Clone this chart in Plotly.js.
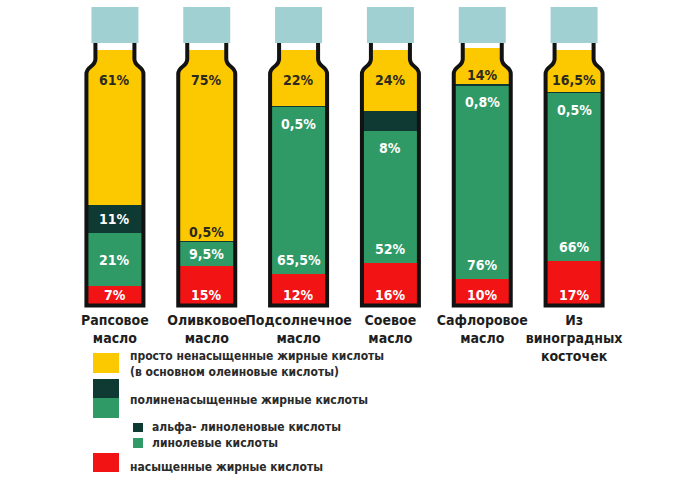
<!DOCTYPE html>
<html>
<head>
<meta charset="utf-8">
<script src="https://cdn.plot.ly/plotly-3.0.1.min.js"></script>
<style>html,body{margin:0;padding:0;background:#fff;}#chart{width:700px;height:480px;}</style>
</head>
<body>
<div id="chart"></div>
<script>
// ---- data ----
var categories = ['Рапсовое<br>масло', 'Оливковое<br>масло', 'Подсолнечное<br>масло', 'Соевое<br>масло', 'Сафлоровое<br>масло', 'Из<br>виноградных<br>косточек'];
var saturated = [7, 15, 12, 16, 10, 17];          // насыщенные
var linoleic = [21, 9.5, 65.5, 52, 76, 66];       // линолевые
var alphaLinolenic = [11, 0.5, 0.5, 8, 0.8, 0.5]; // альфа-линоленовые
var monounsaturated = [61, 75, 22, 24, 14, 16.5]; // просто ненасыщенные

var seriesNames = ['насыщенные жирные кислоты', 'линолевые кислоты', 'альфа- линоленовые кислоты', 'просто ненасыщенные жирные кислоты'];
var legendLines = ['просто ненасыщенные жирные кислоты<br>(в основном олеиновые кислоты)', 'полиненасыщенные жирные кислоты', 'альфа- линоленовые кислоты', 'линолевые кислоты', 'насыщенные жирные кислоты'];

// ---- styling / geometry ----
var C = {yellow: '#fcc800', dark: '#0f3933', green: '#2f9a66', red: '#f21414', cap: '#a0d0d2', line: '#121212'};
var FONT = '"Liberation Sans Narrow", "Arial Narrow", "DejaVu Sans Condensed", "Liberation Sans", Arial, sans-serif';
var W = 700, H = 480;
var ML = 69, MR = 80, MT = 4, MB = 170;
var PW = W - ML - MR, PH = H - MT - MB;
var XU = PW / categories.length;          // pixels per category
var PX0 = 304, PXU = 2.54;                // pixel of y=0, pixels per %
function yd(py) { return (PX0 - py) / PXU; }
function xd(px) { return px / XU; }
function px2paperX(px) { return (px - ML) / PW; }
function py2paperY(py) { return (MT + PH - py) / PH; }

var idx = categories.map(function (c, i) { return i; });
function fmt(v) { return String(v).replace('.', ',') + '%'; }

var BW = xd(57);
var traces = [
  {y: saturated, color: C.red},
  {y: linoleic, color: C.green},
  {y: alphaLinolenic, color: C.dark},
  {y: monounsaturated, color: C.yellow}
].map(function (s, k) {
  return {
    type: 'bar', x: idx, y: s.y, name: seriesNames[k], width: BW,
    marker: {color: s.color, line: {width: 0}}, hoverinfo: 'skip', showlegend: false
  };
});

// ---- bottle shapes ----
var shapes = [];
var bodyHalf = xd(28.5), neckHalf = xd(19.5), capHalf = xd(23.5);
var yBody = yd(74), yNeck = yd(59), yCapB = yd(43), yCapT = yd(7), yBot = yd(305.5);
var maskOut = xd(34);
idx.forEach(function (cx) {
  var L = cx - bodyHalf, R = cx + bodyHalf, nL = cx - neckHalf, nR = cx + neckHalf;
  var c1 = yBody + (yNeck - yBody) * 0.55, c2 = yBody + (yNeck - yBody) * 0.45;
  // white masks outside the shoulders
  shapes.push({type: 'path', xref: 'x', yref: 'y', layer: 'above', line: {width: 0}, fillcolor: '#ffffff',
    path: 'M' + (cx - maskOut) + ',' + yBody + ' L' + L + ',' + yBody + ' C' + L + ',' + c1 + ' ' + nL + ',' + c2 + ' ' + nL + ',' + yNeck +
      ' L' + nL + ',' + (yCapB + 1) + ' L' + (cx - maskOut) + ',' + (yCapB + 1) + ' Z'});
  shapes.push({type: 'path', xref: 'x', yref: 'y', layer: 'above', line: {width: 0}, fillcolor: '#ffffff',
    path: 'M' + (cx + maskOut) + ',' + yBody + ' L' + R + ',' + yBody + ' C' + R + ',' + c1 + ' ' + nR + ',' + c2 + ' ' + nR + ',' + yNeck +
      ' L' + nR + ',' + (yCapB + 1) + ' L' + (cx + maskOut) + ',' + (yCapB + 1) + ' Z'});
  // outline
  shapes.push({type: 'path', xref: 'x', yref: 'y', layer: 'above', line: {width: 4, color: C.line},
    path: 'M' + nL + ',' + (yCapB + 0.5) + ' L' + nL + ',' + yNeck + ' C' + nL + ',' + c2 + ' ' + L + ',' + c1 + ' ' + L + ',' + yBody +
      ' L' + L + ',' + yBot + ' L' + R + ',' + yBot + ' L' + R + ',' + yBody + ' C' + R + ',' + c1 + ' ' + nR + ',' + c2 + ' ' + nR + ',' + yNeck +
      ' L' + nR + ',' + (yCapB + 0.5)});
  // cap
  shapes.push({type: 'rect', xref: 'x', yref: 'y', layer: 'above', line: {width: 0}, fillcolor: C.cap,
    x0: cx - capHalf, x1: cx + capHalf, y0: yCapB, y1: yCapT});
});

// ---- value labels ----
var annotations = [];
function lab(x, y, v, color) {
  annotations.push({xref: 'x', yref: 'y', x: x, y: y, text: '<b>' + fmt(v) + '</b>', showarrow: false,
    font: {family: FONT, size: 14, color: color}});
}
idx.forEach(function (i) {
  var r = saturated[i], g = linoleic[i], a = alphaLinolenic[i], m = monounsaturated[i];
  lab(i, Math.min(r / 2, 3.5), r, '#ffffff');
  lab(i, g >= 30 ? r + 5.5 : r + g / 2, g, '#ffffff');
  var aBase = r + g;
  var ay = a >= 10 ? aBase + a / 2 : (g < 20 ? aBase + a + 3.2 : aBase - 6.5);
  lab(i, ay, a, (g < 20 && a < 10) ? '#2b2a1e' : '#ffffff');
  lab(i, Math.max(88, aBase + a + 3.2), m, '#2b2a1e');
});

// ---- legend (drawn) ----
function sq(x0, x1, y0, y1, color) {
  shapes.push({type: 'rect', xref: 'paper', yref: 'paper', line: {width: 0}, fillcolor: color,
    x0: px2paperX(x0), x1: px2paperX(x1), y0: py2paperY(y0), y1: py2paperY(y1)});
}
function ltext(x, y, t) {
  annotations.push({xref: 'paper', yref: 'paper', x: px2paperX(x), y: py2paperY(y), xanchor: 'left', yanchor: 'middle', align: 'left',
    text: '<b>' + t + '</b>', showarrow: false, font: {family: FONT, size: 12, color: '#2a2a2a'}});
}
sq(93, 119, 353, 373, C.yellow);
sq(93, 119, 379, 398, C.dark);
sq(93, 119, 398, 418, C.green);
sq(133, 143, 423, 432, C.dark);
sq(133, 143, 438, 448, C.green);
sq(93, 119, 453, 472, C.red);
ltext(128, 364, legendLines[0]);
ltext(128, 400, legendLines[1]);
ltext(150, 427, legendLines[2]);
ltext(150, 443, legendLines[3]);
ltext(128, 467, legendLines[4]);

var layout = {
  width: W, height: H, margin: {l: ML, r: MR, t: MT, b: MB},
  paper_bgcolor: '#ffffff', plot_bgcolor: '#ffffff',
  barmode: 'stack', showlegend: false,
  xaxis: {range: [-0.5, categories.length - 0.5], tickvals: idx, ticktext: categories, tickangle: 0, showgrid: false, zeroline: false,
    showline: false, ticks: '', fixedrange: true, tickfont: {family: FONT, size: 14, color: '#1e1e1e', weight: 'bold'}},
  yaxis: {range: [yd(310), yd(MT)], visible: false, fixedrange: true},
  shapes: shapes, annotations: annotations
};
Plotly.newPlot('chart', traces, layout, {displayModeBar: false, staticPlot: true});
</script>
</body>
</html>
